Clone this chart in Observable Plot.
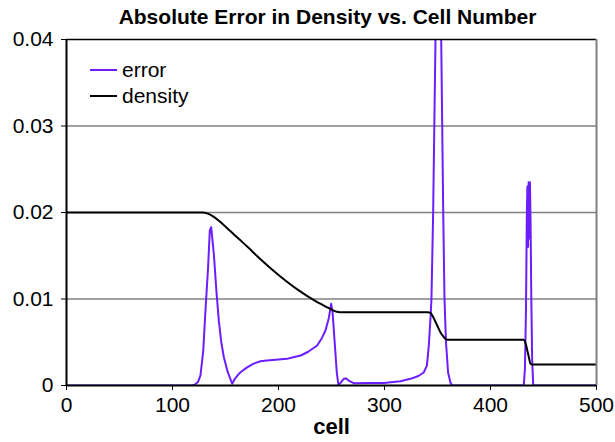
<!DOCTYPE html>
<html>
<head>
<meta charset="utf-8">
<script src="https://cdn.jsdelivr.net/npm/d3@7"></script>
<script src="https://cdn.jsdelivr.net/npm/@observablehq/plot@0.6"></script>
<style>
  html, body { margin: 0; padding: 0; background: #fff; }
  #wrap { position: relative; width: 615px; height: 442px; font-family: "Liberation Sans", Arial, sans-serif; }
  #legend { position: absolute; left: 90px; top: 57px; font-size: 21px; color: #000; }
  #legend .row { display: flex; align-items: center; height: 26px; }
  #legend .sw { width: 27px; height: 2px; margin-right: 5px; }
</style>
</head>
<body>
<div id="wrap"></div>
<script>
const title = "Absolute Error in Density vs. Cell Number";
const xLabel = "cell";
const xTicks = [0, 100, 200, 300, 400, 500];
const yTicks = [0, 0.01, 0.02, 0.03, 0.04];
const seriesNames = ["error", "density"];
const seriesColors = ["#6B1EFF", "#000000"];

const errorCell = [0, 118, 121, 124, 126.4, 129, 131.1, 133.5, 135.2, 136.5, 139, 141.5, 143.7, 146, 148.4, 152, 156.3, 159, 162.6, 166, 170.4, 176, 183, 189, 200, 208, 215, 221, 228, 236.5, 241, 244.3, 247.5, 249.7, 251, 253, 255, 256.5, 258.5, 261.6, 264, 267, 271, 285, 299.4, 315, 324.5, 332, 337, 340, 341.8, 343.5, 344.3, 345.9, 348.1, 351, 353.5, 355.4, 356.6, 358, 360, 362.3, 364, 431.4, 432.5, 433.5, 434.3, 434.8, 435.4, 436, 436.6, 437.2, 437.8, 438.5, 439.3, 440.3, 500];
const errorValue = [0, 0, 0.0001, 0.0004, 0.00116, 0.004, 0.0087, 0.0135, 0.0179, 0.0183, 0.0152, 0.0108, 0.0075, 0.005, 0.0033, 0.0016, 0.0002, 0.0008, 0.00135, 0.0017, 0.0021, 0.0025, 0.0028, 0.0029, 0.0030, 0.00308, 0.0033, 0.00347, 0.0039, 0.00462, 0.0055, 0.00636, 0.0078, 0.00944, 0.0085, 0.005, 0.0015, 0.0001, 0.0003, 0.00077, 0.0008, 0.0005, 0.00027, 0.00028, 0.0003, 0.0005, 0.00077, 0.0011, 0.0015, 0.0023, 0.0046, 0.008, 0.01, 0.02, 0.04, 0.055, 0.04, 0.02, 0.01, 0.005, 0.0015, 0.0003, 0, 0, 0.002, 0.009, 0.02, 0.023, 0.016, 0.0235, 0.017, 0.0235, 0.019, 0.01, 0.003, 0, 0];

const densityCell = [0, 128, 132.7, 139, 147, 155, 163, 171, 183, 195, 208, 220.8, 233, 245, 251, 255, 258, 341, 343.4, 346, 349.7, 353, 356, 357.5, 359, 431, 432.1, 433.5, 435, 436.5, 437.7, 439.3, 500];
const densityValue = [0.02, 0.02, 0.0199, 0.0195, 0.0187, 0.0178, 0.0169, 0.0160, 0.0146, 0.0133, 0.0120, 0.01085, 0.0099, 0.0091, 0.00872, 0.00852, 0.00848, 0.00848, 0.0084, 0.0079, 0.00694, 0.0061, 0.0056, 0.0054, 0.00528, 0.00528, 0.0052, 0.0047, 0.0039, 0.0031, 0.00251, 0.00243, 0.00243];

const errorData = errorCell.map((c, i) => ({cell: c, value: errorValue[i]}));
const densityData = densityCell.map((c, i) => ({cell: c, value: densityValue[i]}));

const font = "Liberation Sans, Arial, sans-serif";

const chart = Plot.plot({
  width: 615,
  height: 442,
  marginTop: 39,
  marginBottom: 57,
  marginLeft: 66,
  marginRight: 19,
  style: {fontFamily: font, fontSize: "21px", background: "#fff", color: "#000"},
  x: {domain: [0, 500]},
  y: {domain: [0, 0.04]},
  marks: [
    Plot.gridY(yTicks.filter(d => d > 0 && d < 0.04), {stroke: "#808080", strokeOpacity: 1, strokeWidth: 1.5}),
    Plot.line(errorData, {x: "cell", y: "value", stroke: seriesColors[0], strokeWidth: 2, clip: true}),
    Plot.line(densityData, {x: "cell", y: "value", stroke: seriesColors[1], strokeWidth: 2, curve: "monotone-x", clip: true}),
    Plot.ruleY([0.04], {stroke: "#000", strokeWidth: 1.5}),
    Plot.ruleX([500], {stroke: "#808080", strokeWidth: 2}),
    Plot.ruleX([0], {stroke: "#000", strokeWidth: 2}),
    Plot.ruleY([0], {stroke: "#000", strokeWidth: 2}),
    Plot.axisX(xTicks, {tickSize: 5, tickPadding: 7, fontSize: 21, label: null, tickFormat: d => String(d)}),
    Plot.axisY(yTicks, {tickSize: 5, tickPadding: 8, fontSize: 21, label: null, tickFormat: d => d === 0 ? "0" : d.toFixed(2)}),
    Plot.text([title], {frameAnchor: "top", dy: -22, dx: -4, fontWeight: "bold", fontSize: 21, lineAnchor: "middle"}),
    Plot.text([xLabel], {frameAnchor: "bottom", dy: 41, fontWeight: "bold", fontSize: 22, lineAnchor: "middle"})
  ]
});

const wrap = document.getElementById("wrap");
wrap.appendChild(chart);
const legend = document.createElement("div");
legend.id = "legend";
seriesNames.forEach((name, i) => {
  const row = document.createElement("div");
  row.className = "row";
  const sw = document.createElement("div");
  sw.className = "sw";
  sw.style.background = seriesColors[i];
  const lab = document.createElement("span");
  lab.textContent = name;
  row.appendChild(sw);
  row.appendChild(lab);
  legend.appendChild(row);
});
wrap.appendChild(legend);
</script>
</body>
</html>
